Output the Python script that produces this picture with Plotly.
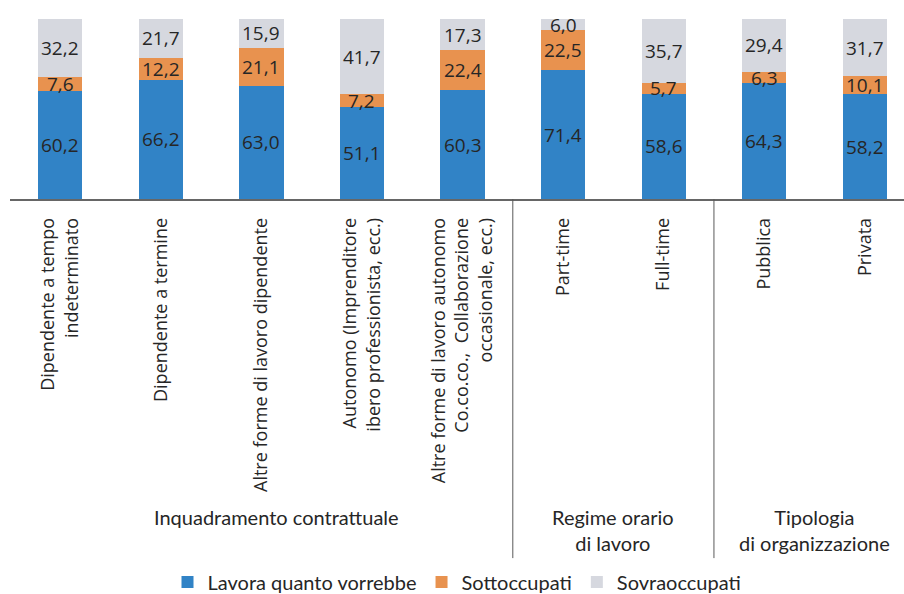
import plotly.graph_objects as go

categories = [
    "Dipendente a tempo<br>indeterminato",
    "Dipendente a termine",
    "Altre forme di lavoro dipendente",
    "Autonomo (Imprenditore<br>ibero professionista, ecc.)",
    "Altre forme di lavoro autonomo<br>Co.co.co.,\u00a0 Collaborazione<br>occasionale, ecc.)",
    "Part-time",
    "Full-time",
    "Pubblica",
    "Privata",
]
lavora = [60.2, 66.2, 63.0, 51.1, 60.3, 71.4, 58.6, 64.3, 58.2]
sotto = [7.6, 12.2, 21.1, 7.2, 22.4, 22.5, 5.7, 6.3, 10.1]
sovra = [32.2, 21.7, 15.9, 41.7, 17.3, 6.0, 35.7, 29.4, 31.7]

series = [
    ("Lavora quanto vorrebbe", lavora, "#3183c6"),
    ("Sottoccupati", sotto, "#e8924f"),
    ("Sovraoccupati", sovra, "#d6d8df"),
]

groups = [
    ("Inquadramento contrattuale", 2.15),
    ("Regime orario<br>di lavoro", 5.5),
    ("Tipologia<br>di organizzazione", 7.5),
]
separators = [4.5, 6.5]

LABEL_FONT = "Open Sans"
GROUP_FONT = "Lato"
TEXT_COLOR = "#262626"

x_idx = list(range(len(categories)))

fig = go.Figure()
for name, vals, color in series:
    fig.add_trace(go.Bar(
        x=x_idx, y=vals, name=name, width=0.44,
        marker=dict(color=color, line=dict(width=0)),
    ))

# value labels centred in each stacked segment
annotations = []
base = [0.0] * len(categories)
for name, vals, color in series:
    for i, v in enumerate(vals):
        annotations.append(dict(
            x=i, y=base[i] + v / 2, xref="x", yref="y",
            text=f"{v:.1f}".replace(".", ","), showarrow=False,
            font=dict(family=LABEL_FONT, size=19, color=TEXT_COLOR),
        ))
        base[i] += v

# group titles below the category labels
for text, xc in groups:
    annotations.append(dict(
        x=xc, y=-1.69, xref="x", yref="paper", yanchor="top",
        text=text, showarrow=False, align="center",
        font=dict(family=GROUP_FONT, size=20, color=TEXT_COLOR),
    ))

shapes = [
    dict(type="line", xref="x", yref="paper", x0=s, x1=s, y0=0, y1=-1.995,
         line=dict(color="#595959", width=1))
    for s in separators
]

fig.update_layout(
    barmode="stack",
    width=904, height=594,
    margin=dict(l=10, r=0, t=19, b=395),
    paper_bgcolor="white", plot_bgcolor="white",
    annotations=annotations,
    shapes=shapes,
    showlegend=True,
    legend=dict(
        orientation="h", x=0.5, xanchor="center",
        yref="container", y=0.02, yanchor="middle",
        font=dict(family=GROUP_FONT, size=20, color=TEXT_COLOR),
        bgcolor="rgba(0,0,0,0)",
        itemwidth=30, traceorder="normal",
    ),
    xaxis=dict(
        range=[-0.5, 8.39], tickmode="array", tickvals=x_idx, ticktext=categories,
        tickangle=-90, ticks="", ticklabelstandoff=10,
        tickfont=dict(family=LABEL_FONT, size=18, color=TEXT_COLOR),
        showline=True, linecolor="#666666", linewidth=1.5,
        showgrid=False, zeroline=False, fixedrange=True,
    ),
    yaxis=dict(range=[0, 100], visible=False, fixedrange=True),
)

fig.write_html("out.html")
